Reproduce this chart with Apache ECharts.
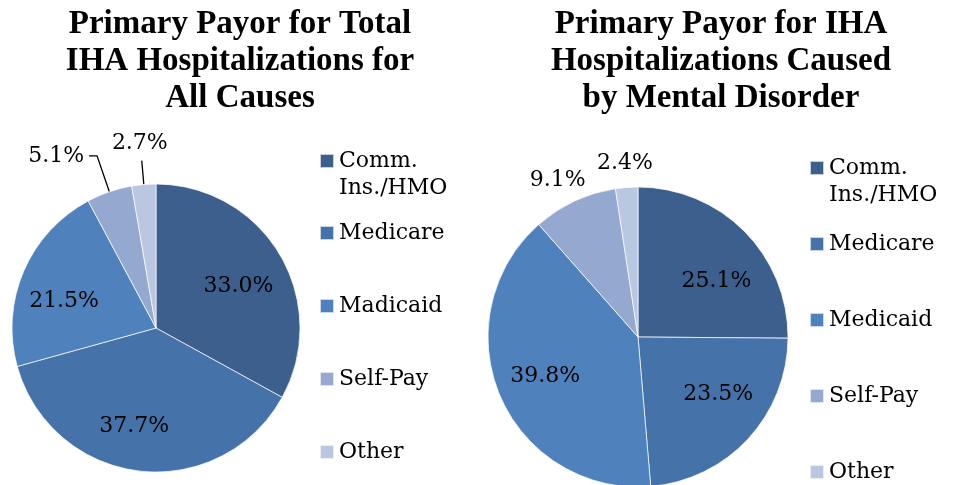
<!DOCTYPE html>
<html>
<head>
<meta charset="utf-8">
<script src="https://cdn.jsdelivr.net/npm/echarts@6/dist/echarts.min.js"></script>
<style>
  html, body { margin: 0; padding: 0; background: #fff; }
  #chart { width: 953px; height: 485px; }
</style>
</head>
<body>
<div id="chart"></div>
<script>
// left pie: all causes (the reference spells "Madicaid" here)
const allCausesNames = ["Comm. Ins./HMO", "Medicare", "Madicaid", "Self-Pay", "Other"];
const allCausesValues = [33.0, 37.7, 21.5, 5.1, 2.7];

// right pie: mental disorder
const mentalNames = ["Comm. Ins./HMO", "Medicare", "Medicaid", "Self-Pay", "Other"];
const mentalValues = [25.1, 23.5, 39.8, 9.1, 2.4];

const sliceColors = ["#3C5F8E", "#4572A8", "#4F81BD", "#95A9D0", "#B9C7E1"];

const serif = "DejaVu Serif";
const labelText = { fontFamily: serif, fontSize: 22, color: "#000" };

// small nudges for labels, per slice
const leftNudge = [
  { dx: 18, dy: -4 },
  { dx: -13, dy: 24 },
  { dx: -23, dy: 3 },
  {},
  { dx: 31, dy: -17 },
];
const rightNudge = [
  { dx: 23, dy: -1 },
  { dx: 23, dy: 4 },
  { dx: -21, dy: 9 },
  { dx: 26, dy: 0 },
  { dx: 33, dy: 0 },
];
// outside label lines: [show, length, length2]
const leftLines = [null, null, null, [true, 38, 8], [true, 24, 0]];
const rightLines = [null, null, null, [false, 23, 0], [false, 24, 0]];

function pieSeries(names, values, center, radius, nudge, lines) {
  return {
    type: "pie",
    center: center,
    radius: radius,
    startAngle: 90,
    clockwise: true,
    avoidLabelOverlap: false,
    silent: true,
    animation: false,
    itemStyle: { borderColor: "rgba(255,255,255,0.7)", borderWidth: 1 },
    label: Object.assign({ formatter: (p) => p.value.toFixed(1) + "%" }, labelText),
    labelLine: { lineStyle: { color: "#000", width: 1.3 } },
    data: names.map((n, i) => {
      const item = {
        name: n,
        value: values[i],
        itemStyle: { color: sliceColors[i] },
      };
      if (lines[i]) {
        item.label = { position: "outside" };
        item.labelLine = { show: lines[i][0], length: lines[i][1], length2: lines[i][2] };
      } else {
        item.label = { position: "inside" };
      }
      return item;
    }),
    labelLayout: (p) => nudge[p.dataIndex],
  };
}

const titleStyle = {
  fontFamily: "Liberation Serif",
  fontWeight: "bold",
  fontSize: 33,
  lineHeight: 37,
  color: "#000",
};

function legendPair(left, topFirst, topRest, gap, names) {
  return [
    {
      // blank first line so "Comm." sits level with the swatch
      orient: "vertical",
      left: left,
      top: topFirst,
      padding: 0,
      itemWidth: 14,
      itemHeight: 14,
      icon: "rect",
      selectedMode: false,
      data: [names[0]],
      formatter: () => " \nComm.\nIns./HMO",
      textStyle: Object.assign({ lineHeight: 27 }, labelText),
    },
    {
      orient: "vertical",
      left: left,
      top: topRest,
      padding: 0,
      itemGap: gap,
      itemWidth: 14,
      itemHeight: 14,
      icon: "rect",
      selectedMode: false,
      data: names.slice(1),
      textStyle: Object.assign({ lineHeight: 22 }, labelText),
    },
  ];
}

const chart = echarts.init(document.getElementById("chart"));
chart.setOption({
  backgroundColor: "#fff",
  title: [
    {
      text: "Primary Payor for Total\nIHA Hospitalizations for\nAll Causes",
      left: 240,
      top: 6,
      padding: 0,
      textAlign: "center",
      textStyle: titleStyle,
    },
    {
      text: "Primary Payor for IHA\nHospitalizations Caused\nby Mental Disorder",
      left: 721,
      top: 6,
      padding: 0,
      textAlign: "center",
      textStyle: titleStyle,
    },
  ],
  legend: legendPair(319, 120.5, 222, 51, allCausesNames).concat(
    legendPair(809, 127.5, 233, 54, mentalNames)
  ),
  series: [
    pieSeries(allCausesNames, allCausesValues, [156, 328], 144, leftNudge, leftLines),
    pieSeries(mentalNames, mentalValues, [638, 337], 150, rightNudge, rightLines),
  ],
});
</script>
</body>
</html>
